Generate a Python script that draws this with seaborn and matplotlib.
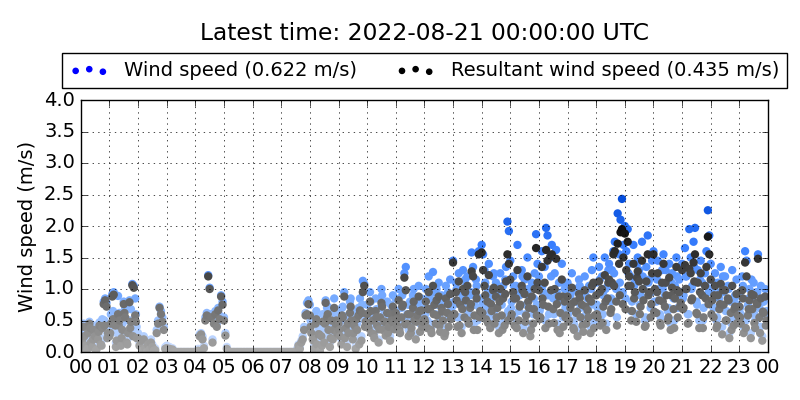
import matplotlib
matplotlib.use('Agg')
import numpy as np
import pandas as pd
import seaborn as sns
from matplotlib import pyplot as plt
import matplotlib.dates as mdates
from matplotlib.colors import LinearSegmentedColormap

# 3-minute samples, 20 per hour
wind_by_hour = [
    [0.12, 0.30, 0.45, 0.20, 0.08, 0.38, 0.48, 0.25, 0.15, 0.42, 0.33, 0.10, 0.28, 0.47, 0.22, 0.52, 0.80, 0.85, 0.78, 0.40],
    [0.35, 0.60, 0.92, 0.95, 0.55, 0.30, 0.89, 0.62, 0.20, 0.45, 0.80, 0.70, 0.25, 0.50, 0.82, 0.68, 1.08, 1.05, 0.85, 0.40],
    [0.30, 0.15, 0.22, 0.05, 0.25, 0.10, 0.02, 0.18, 0.08, 0.20, 0.12, 0.04, 0.06, 0.35, 0.50, 0.72, 0.65, 0.55, 0.40, 0.08],
    [0.10, 0.05, 0.08, 0.03, 0.06, 0.02, 0, 0, 0, 0, 0, 0, 0, 0, 0, 0, 0, 0, 0, 0],
    [0, 0, 0.05, 0.28, 0.30, 0.25, 0.10, 0.55, 0.62, 1.22, 1.02, 0.60, 0.20, 0.50, 0.65, 0.45, 0.70, 0.58, 0.90, 0.80],
    [0.55, 0.30, 0.08, 0, 0, 0, 0, 0, 0, 0, 0, 0, 0, 0, 0, 0, 0, 0, 0, 0],
    [0, 0, 0, 0, 0, 0, 0, 0, 0, 0, 0, 0, 0, 0, 0, 0, 0, 0, 0, 0],
    [0, 0, 0, 0, 0, 0, 0, 0, 0, 0, 0, 0.05, 0.12, 0.08, 0.18, 0.25, 0.40, 0.62, 0.78, 0.82],
    [0.75, 0.45, 0.30, 0.10, 0.55, 0.20, 0.40, 0.05, 0.35, 0.60, 0.25, 0.82, 0.70, 0.48, 0.15, 0.65, 0.30, 0.85, 0.58, 0.42],
    [0.60, 0.35, 0.20, 0.72, 0.95, 0.50, 0.15, 0.40, 0.80, 0.65, 0.30, 0.55, 0.10, 0.45, 0.70, 0.85, 0.25, 1.13, 1.08, 0.60],
    [0.75, 0.50, 0.95, 0.40, 0.62, 0.30, 0.85, 0.55, 0.20, 0.70, 1.00, 0.45, 0.60, 0.35, 0.80, 0.52, 0.25, 0.65, 0.90, 0.48],
    [0.85, 0.55, 1.00, 0.40, 0.70, 0.95, 1.25, 1.35, 0.60, 0.35, 0.80, 0.50, 0.90, 0.65, 0.28, 0.75, 1.05, 0.45, 0.85, 0.62],
    [0.70, 1.00, 0.50, 1.20, 0.85, 0.40, 1.27, 0.95, 0.60, 0.75, 1.10, 0.45, 0.90, 0.65, 0.35, 1.05, 0.80, 0.55, 1.15, 0.70],
    [1.45, 0.80, 1.10, 0.55, 1.25, 0.95, 0.40, 1.30, 0.70, 1.05, 1.20, 0.60, 0.90, 1.58, 1.35, 0.75, 1.15, 0.50, 1.60, 0.85],
    [1.70, 1.55, 1.30, 0.70, 1.00, 1.40, 0.50, 0.85, 1.20, 0.60, 1.10, 0.90, 0.40, 1.25, 0.75, 1.05, 0.55, 1.35, 2.07, 1.92],
    [1.45, 0.80, 1.20, 0.55, 1.05, 1.70, 0.65, 0.95, 1.30, 0.40, 1.15, 0.75, 1.50, 0.90, 0.35, 1.10, 0.60, 1.25, 1.87, 1.40],
    [1.20, 0.70, 1.60, 0.95, 1.35, 1.97, 1.85, 0.60, 1.50, 1.70, 0.85, 1.25, 1.62, 0.45, 1.10, 0.80, 1.40, 0.55, 1.00, 0.75],
    [1.10, 0.65, 0.90, 1.25, 0.50, 1.00, 0.80, 0.35, 1.15, 0.70, 0.95, 0.45, 1.20, 0.60, 0.85, 1.05, 0.40, 1.30, 1.50, 0.75],
    [1.10, 0.70, 1.35, 0.55, 1.20, 0.90, 1.50, 0.45, 1.05, 1.40, 0.80, 1.30, 1.60, 1.75, 1.00, 2.20, 1.55, 2.10, 2.43, 1.70],
    [2.00, 1.60, 1.95, 1.40, 1.20, 0.80, 1.70, 1.10, 0.60, 1.50, 1.30, 0.90, 1.75, 1.00, 0.50, 1.35, 1.85, 1.15, 0.70, 1.45],
    [1.60, 1.20, 0.80, 1.45, 1.00, 0.55, 1.30, 1.55, 0.90, 1.10, 0.65, 1.40, 0.45, 1.25, 0.85, 1.05, 1.50, 0.70, 1.15, 0.95],
    [1.40, 0.90, 1.65, 1.20, 0.60, 1.95, 1.50, 1.05, 1.75, 1.97, 0.80, 1.30, 0.50, 1.45, 1.10, 0.70, 1.25, 1.60, 2.25, 1.85],
    [1.40, 1.00, 0.70, 1.25, 0.50, 1.10, 0.85, 1.35, 0.40, 0.95, 1.20, 0.65, 1.05, 0.30, 0.80, 1.30, 0.55, 0.90, 1.15, 0.75],
    [0.90, 0.60, 1.20, 0.40, 1.60, 1.45, 0.75, 1.00, 0.30, 0.85, 1.10, 0.50, 0.95, 1.55, 0.70, 1.05, 0.25, 0.80, 1.00, 0.65],
]

resultant_by_hour = [
    [0.05, 0.18, 0.40, 0.10, 0.02, 0.30, 0.45, 0.15, 0.08, 0.35, 0.25, 0.04, 0.20, 0.42, 0.12, 0.38, 0.76, 0.82, 0.72, 0.30],
    [0.25, 0.45, 0.88, 0.91, 0.42, 0.18, 0.60, 0.50, 0.10, 0.35, 0.76, 0.55, 0.15, 0.30, 0.79, 0.48, 1.06, 1.02, 0.58, 0.22],
    [0.22, 0.10, 0.18, 0.02, 0.20, 0.06, 0.00, 0.12, 0.04, 0.15, 0.08, 0.02, 0.03, 0.30, 0.45, 0.70, 0.60, 0.48, 0.35, 0.05],
    [0.06, 0.03, 0.05, 0.01, 0.04, 0.01, 0, 0, 0, 0, 0, 0, 0, 0, 0, 0, 0, 0, 0, 0],
    [0, 0, 0.02, 0.25, 0.28, 0.20, 0.06, 0.50, 0.58, 1.20, 1.00, 0.55, 0.15, 0.45, 0.60, 0.40, 0.66, 0.52, 0.88, 0.75],
    [0.50, 0.26, 0.05, 0, 0, 0, 0, 0, 0, 0, 0, 0, 0, 0, 0, 0, 0, 0, 0, 0],
    [0, 0, 0, 0, 0, 0, 0, 0, 0, 0, 0, 0, 0, 0, 0, 0, 0, 0, 0, 0],
    [0, 0, 0, 0, 0, 0, 0, 0, 0, 0, 0, 0.02, 0.10, 0.05, 0.15, 0.20, 0.35, 0.58, 0.60, 0.76],
    [0.58, 0.30, 0.20, 0.05, 0.45, 0.12, 0.28, 0.02, 0.25, 0.48, 0.15, 0.78, 0.55, 0.35, 0.08, 0.50, 0.20, 0.70, 0.45, 0.30],
    [0.45, 0.25, 0.12, 0.55, 0.88, 0.38, 0.08, 0.30, 0.62, 0.50, 0.20, 0.42, 0.05, 0.35, 0.58, 0.66, 0.18, 0.95, 1.05, 0.48],
    [0.60, 0.38, 0.80, 0.30, 0.50, 0.22, 0.65, 0.42, 0.15, 0.55, 0.78, 0.35, 0.48, 0.26, 0.62, 0.40, 0.18, 0.50, 0.72, 0.36],
    [0.62, 0.42, 0.82, 0.30, 0.55, 0.75, 1.18, 0.98, 0.45, 0.25, 0.60, 0.38, 0.70, 0.50, 0.20, 0.58, 0.88, 0.32, 0.66, 0.48],
    [0.52, 0.80, 0.38, 0.95, 0.68, 0.30, 1.05, 0.75, 0.45, 0.58, 0.88, 0.32, 0.70, 0.50, 0.25, 0.85, 0.62, 0.40, 0.92, 0.55],
    [1.42, 0.60, 0.95, 0.40, 1.12, 0.75, 0.30, 1.00, 0.55, 0.82, 1.05, 0.45, 0.70, 1.28, 1.20, 0.58, 0.95, 0.35, 1.55, 0.65],
    [1.58, 1.30, 1.05, 0.52, 0.80, 1.22, 0.38, 0.65, 0.98, 0.45, 0.88, 0.70, 0.30, 1.00, 0.58, 0.85, 0.42, 1.12, 1.55, 1.40],
    [1.15, 0.60, 0.95, 0.42, 0.85, 1.30, 0.50, 0.75, 1.05, 0.30, 0.92, 0.58, 1.20, 0.70, 0.25, 0.88, 0.45, 1.00, 1.65, 1.10],
    [0.98, 0.55, 1.35, 0.75, 1.10, 1.62, 1.45, 0.45, 1.52, 1.55, 0.68, 1.00, 1.48, 0.35, 0.88, 0.62, 1.15, 0.40, 0.80, 0.58],
    [0.88, 0.50, 0.70, 1.02, 0.38, 0.80, 0.62, 0.25, 0.92, 0.55, 0.75, 0.32, 0.98, 0.45, 0.66, 0.85, 0.30, 1.05, 1.10, 0.58],
    [0.90, 0.55, 1.12, 0.42, 1.00, 0.72, 1.22, 0.35, 0.85, 1.15, 0.62, 1.10, 1.55, 1.60, 0.80, 1.72, 1.40, 1.90, 1.95, 1.50],
    [1.88, 1.30, 1.75, 1.20, 1.05, 0.65, 1.40, 0.95, 0.48, 1.28, 1.12, 0.72, 1.45, 0.82, 0.40, 1.12, 1.55, 0.95, 0.55, 1.25],
    [1.55, 1.00, 0.62, 1.25, 0.82, 0.42, 1.10, 1.40, 0.72, 0.90, 0.50, 1.18, 0.35, 1.02, 0.68, 0.85, 1.35, 0.55, 0.95, 0.78],
    [1.30, 0.70, 1.38, 1.00, 0.45, 1.32, 1.25, 0.85, 1.42, 1.55, 0.62, 1.10, 0.38, 1.25, 0.90, 0.55, 1.05, 1.35, 1.83, 1.55],
    [1.15, 0.82, 0.55, 1.05, 0.38, 0.90, 0.68, 1.08, 0.28, 0.75, 0.98, 0.50, 0.85, 0.22, 0.62, 1.05, 0.42, 0.72, 0.92, 0.58],
    [0.72, 0.45, 0.98, 0.30, 1.42, 1.20, 0.58, 0.82, 0.22, 0.68, 0.90, 0.38, 0.78, 1.48, 0.55, 0.85, 0.18, 0.62, 0.88, 0.50],
]

# extra in-between samples (6-minute spacing, offset 1.5 min) for the busy hours
extra_hours = [0, 1, 8, 9, 10, 11, 12, 13, 14, 15, 16, 17, 18, 19, 20, 21, 22, 23]
wind_extra = [
    [0.20, 0.35, 0.10, 0.45, 0.28, 0.05, 0.40, 0.18, 0.50, 0.30],
    [0.40, 0.65, 0.15, 0.55, 0.30, 0.75, 0.20, 0.50, 0.35, 0.60],
    [0.50, 0.25, 0.65, 0.38, 0.15, 0.55, 0.72, 0.30, 0.45, 0.62],
    [0.45, 0.70, 0.30, 0.58, 0.85, 0.40, 0.65, 0.20, 0.75, 0.50],
    [0.55, 0.80, 0.35, 0.68, 0.45, 0.90, 0.60, 0.40, 0.75, 0.58],
    [0.65, 0.45, 0.90, 0.55, 0.75, 0.40, 1.00, 0.60, 0.80, 0.50],
    [0.60, 0.85, 0.45, 0.75, 1.00, 0.55, 0.80, 0.40, 0.95, 0.65],
    [0.75, 1.00, 0.55, 0.85, 1.15, 0.65, 0.95, 0.45, 1.05, 0.70],
    [0.80, 1.10, 0.60, 0.95, 1.25, 0.70, 1.00, 0.45, 1.15, 0.65],
    [0.70, 1.05, 0.50, 0.90, 1.20, 0.60, 1.00, 0.45, 0.85, 0.75],
    [0.65, 1.05, 0.50, 0.90, 1.20, 0.60, 0.95, 0.40, 1.10, 0.70],
    [0.60, 0.95, 0.45, 0.80, 1.05, 0.55, 0.90, 0.70, 1.00, 0.50],
    [0.75, 1.15, 0.60, 1.00, 1.30, 0.85, 1.25, 0.55, 1.10, 0.95],
    [0.85, 1.25, 0.65, 1.05, 1.40, 0.75, 1.20, 0.55, 1.10, 0.95],
    [0.80, 1.15, 0.60, 1.00, 1.30, 0.70, 1.10, 0.50, 1.20, 0.90],
    [0.85, 1.20, 0.60, 1.00, 1.35, 0.75, 1.15, 0.50, 1.05, 0.95],
    [0.75, 1.10, 0.55, 0.95, 1.20, 0.65, 1.00, 0.45, 0.85, 0.60],
    [0.70, 1.05, 0.50, 0.85, 1.15, 0.60, 0.95, 0.40, 0.80, 0.55],
]
resultant_extra = [
    [0.12, 0.25, 0.05, 0.38, 0.20, 0.02, 0.32, 0.10, 0.42, 0.22],
    [0.30, 0.52, 0.08, 0.42, 0.22, 0.62, 0.12, 0.38, 0.25, 0.48],
    [0.40, 0.18, 0.52, 0.28, 0.10, 0.45, 0.60, 0.22, 0.35, 0.50],
    [0.35, 0.58, 0.22, 0.45, 0.72, 0.30, 0.52, 0.12, 0.62, 0.40],
    [0.45, 0.65, 0.28, 0.55, 0.36, 0.72, 0.48, 0.30, 0.60, 0.46],
    [0.52, 0.35, 0.72, 0.44, 0.60, 0.30, 0.80, 0.48, 0.65, 0.40],
    [0.48, 0.68, 0.35, 0.60, 0.82, 0.42, 0.64, 0.30, 0.76, 0.52],
    [0.60, 0.82, 0.42, 0.68, 0.95, 0.50, 0.76, 0.35, 0.85, 0.55],
    [0.62, 0.90, 0.46, 0.76, 1.02, 0.55, 0.80, 0.35, 0.92, 0.50],
    [0.55, 0.85, 0.38, 0.72, 0.98, 0.48, 0.80, 0.35, 0.68, 0.58],
    [0.52, 0.85, 0.38, 0.72, 0.98, 0.46, 0.76, 0.30, 0.88, 0.55],
    [0.48, 0.76, 0.35, 0.64, 0.85, 0.42, 0.72, 0.55, 0.80, 0.38],
    [0.60, 0.95, 0.46, 0.80, 1.10, 0.68, 1.05, 0.42, 0.90, 0.76],
    [0.68, 1.05, 0.50, 0.85, 1.18, 0.60, 1.00, 0.42, 0.90, 0.76],
    [0.64, 0.95, 0.46, 0.80, 1.10, 0.55, 0.90, 0.38, 0.98, 0.72],
    [0.68, 1.00, 0.46, 0.82, 1.12, 0.60, 0.95, 0.38, 0.85, 0.76],
    [0.60, 0.90, 0.42, 0.76, 0.98, 0.50, 0.82, 0.35, 0.68, 0.46],
    [0.55, 0.85, 0.38, 0.68, 0.92, 0.46, 0.76, 0.30, 0.64, 0.42],
]

wind_label = 'Wind speed (0.622 m/s)'
resultant_label = 'Resultant wind speed (0.435 m/s)'
title = 'Latest time: 2022-08-21 00:00:00 UTC'

day = pd.Timestamp('2022-08-20 00:00')
wind = np.concatenate(wind_by_hour)
resultant = np.concatenate(resultant_by_hour)
times = pd.date_range(day, periods=len(wind), freq='3min')

extra_times = []
for h in extra_hours:
    extra_times.extend(day + pd.Timedelta(hours=h) + pd.to_timedelta(np.arange(10) * 6 + 1.5, unit='min'))

df = pd.DataFrame({
    'time': list(times) + extra_times,
    'wind': np.concatenate([wind, np.concatenate(wind_extra)]),
    'resultant': np.concatenate([resultant, np.concatenate(resultant_extra)]),
}).sort_values('time')

plt.style.use('classic')
plt.rcParams['figure.facecolor'] = 'white'
plt.rcParams['savefig.facecolor'] = 'white'
plt.rcParams['font.size'] = 14

# darker colour for stronger wind
blues = LinearSegmentedColormap.from_list('wblue', ['#cfe0ff', '#78acff', '#3a80ff', '#0048d8'])
greys = LinearSegmentedColormap.from_list('wgrey', ['#a8a8a8', '#555555', '#0d0d0d'])

fig = plt.figure(figsize=(8, 4), dpi=100)
ax = fig.add_axes([0.101, 0.12, 0.859, 0.63])

sns.scatterplot(data=df, x='time', y='wind', hue='wind', palette=blues, hue_norm=(0, 2.5),
                s=36, linewidth=0, legend=False, ax=ax)
sns.scatterplot(data=df, x='time', y='resultant', hue='resultant', palette=greys, hue_norm=(0, 2.0),
                s=36, linewidth=0, legend=False, ax=ax)

h1 = ax.scatter([], [], color='blue', s=14, label=wind_label)
h2 = ax.scatter([], [], color='black', s=14, label=resultant_label)
ax.legend(handles=[h1, h2], loc='lower center', bbox_to_anchor=(0.5, 1.01), ncol=2,
          scatterpoints=3, fontsize=14)

ax.set_xlim(day, day + pd.Timedelta(days=1))
ax.xaxis.set_major_locator(mdates.HourLocator())
ax.xaxis.set_major_formatter(mdates.DateFormatter('%H'))
ax.set_ylim(0, 4)
ax.set_yticks(np.arange(0, 4.01, 0.5))
ax.grid(True)
ax.set_xlabel('')
ax.set_ylabel('Wind speed (m/s)')
fig.suptitle(title, x=0.531, y=0.915, va='center', fontsize=16.8)

fig.savefig('out.png', dpi=100)
